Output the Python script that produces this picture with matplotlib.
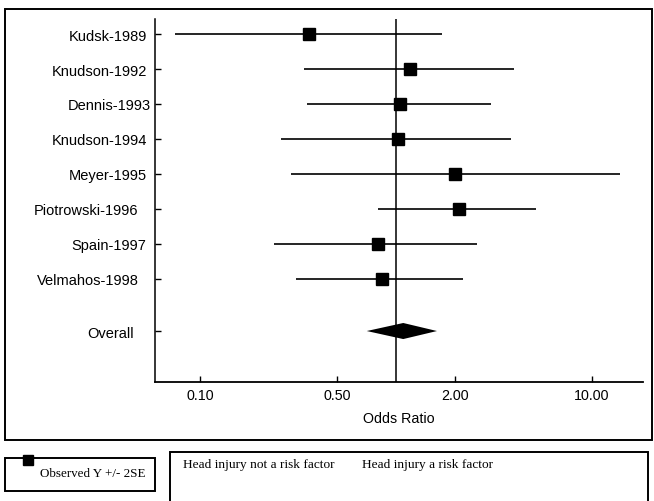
import numpy as np
import matplotlib
matplotlib.use("Agg")
import matplotlib.pyplot as plt
from matplotlib.patches import Rectangle

# study data (odds ratio, lower / upper bound of +/- 2SE)
studies = ["Kudsk-1989", "Knudson-1992", "Dennis-1993", "Knudson-1994",
           "Meyer-1995", "Piotrowski-1996", "Spain-1997", "Velmahos-1998"]
odds = [0.36, 1.18, 1.05, 1.02, 2.00, 2.10, 0.81, 0.85]
lower = [0.075, 0.34, 0.35, 0.26, 0.29, 0.81, 0.24, 0.31]
upper = [1.72, 4.00, 3.05, 3.86, 13.9, 5.18, 2.59, 2.20]

overall_label = "Overall"
overall_est = 1.09
overall_lo = 0.71
overall_hi = 1.62

xticks = [0.1, 0.5, 2.0, 10.0]
xtick_labels = ["0.10", "0.50", "2.00", "10.00"]

plt.rcParams["font.family"] = ["Liberation Sans", "DejaVu Sans"]

fig = plt.figure(figsize=(6.54, 5.02), dpi=100)
ax = fig.add_axes([0.237, 0.237, 0.746, 0.723])

ypos = np.arange(len(studies), 0, -1)
y_overall = -0.5

# CI lines and squares
ax.hlines(ypos, lower, upper, color="black", lw=1.2)
ax.plot(odds, ypos, "s", color="black", markersize=8.2)

# overall diamond
h = 0.23
ax.fill([overall_lo, overall_est, overall_hi, overall_est],
        [y_overall, y_overall + h, y_overall, y_overall - h],
        color="black", lw=0)

# reference line at OR = 1
ax.axvline(1.0, color="black", lw=1.1)

ax.set_xscale("log")
ax.set_xlim(0.059, 18.2)
ax.set_ylim(-1.96, 8.43)
ax.set_xticks(xticks)
ax.set_xticklabels(xtick_labels, fontsize=10.3)
ax.minorticks_off()
ax.set_yticks(list(ypos) + [y_overall])
ax.set_yticklabels(studies + [overall_label], fontsize=10.5)
ax.tick_params(axis="both", direction="in", length=4, width=1)
ax.tick_params(axis="x", pad=4)

# the scanned labels are not all flush with the axis
pads = [6, 6, 3, 6, 6, 12, 6, 12, 15]
for tick, p in zip(ax.yaxis.get_major_ticks(), pads):
    tick.set_pad(p)

ax.set_xlabel("Odds Ratio", fontsize=10.3, labelpad=7)
for side in ["top", "right"]:
    ax.spines[side].set_visible(False)
ax.spines["left"].set_linewidth(1.1)
ax.spines["bottom"].set_linewidth(1.3)

# outer frame around the plot
fig.patches.append(Rectangle((0.0076, 0.1215), 0.989, 0.8586, transform=fig.transFigure,
                             fill=False, edgecolor="black", lw=1.4))

# legend box
fig.patches.append(Rectangle((0.0076, 0.0199), 0.229, 0.0657, transform=fig.transFigure,
                             fill=False, edgecolor="black", lw=1.4))
fig.lines.append(plt.Line2D([28 / 654], [1 - 461 / 502], marker="s", color="black",
                            markersize=7, transform=fig.transFigure))
fig.text(40 / 654, 1 - 474 / 502, "Observed Y +/- 2SE", family="Liberation Serif",
         fontsize=9.4, va="center", ha="left")

# direction box
fig.patches.append(Rectangle((0.26, -0.02), 0.731, 0.1176, transform=fig.transFigure,
                             fill=False, edgecolor="black", lw=1.4))
fig.text(183 / 654, 1 - 465 / 502, "Head injury not a risk factor", family="Liberation Serif",
         fontsize=9.6, va="center", ha="left")
fig.text(362 / 654, 1 - 465 / 502, "Head injury a risk factor", family="Liberation Serif",
         fontsize=9.6, va="center", ha="left")

fig.savefig("out.png", dpi=100)
